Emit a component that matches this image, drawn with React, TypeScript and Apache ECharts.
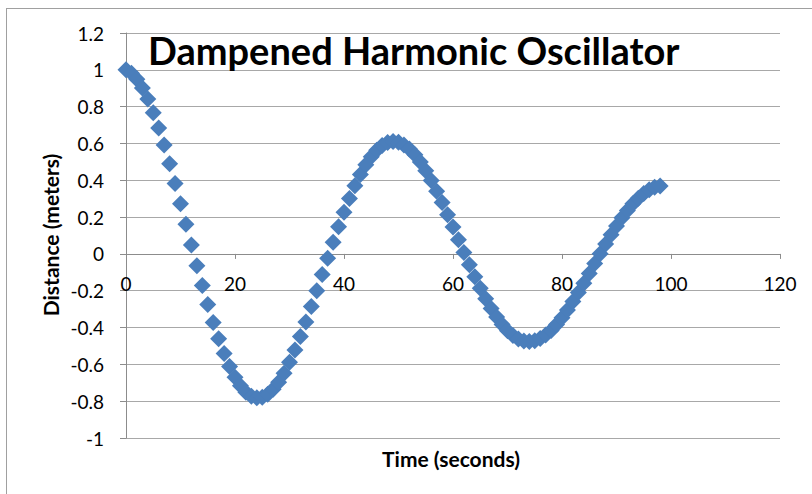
import React, { useEffect, useRef } from "react";
import * as echarts from "echarts";

const timeSeconds = [
  0, 1, 2, 3, 4, 5, 6, 7, 8, 9, 10, 11, 12, 13, 14, 15, 16, 17, 18, 19,
  20, 21, 22, 23, 24, 25, 26, 27, 28, 29, 30, 31, 32, 33, 34, 35, 36, 37, 38, 39,
  40, 41, 42, 43, 44, 45, 46, 47, 48, 49, 50, 51, 52, 53, 54, 55, 56, 57, 58, 59,
  60, 61, 62, 63, 64, 65, 66, 67, 68, 69, 70, 71, 72, 73, 74, 75, 76, 77, 78, 79,
  80, 81, 82, 83, 84, 85, 86, 87, 88, 89, 90, 91, 92, 93, 94, 95, 96, 97, 98,
];

const distanceMeters = [
  1.0, 0.982, 0.949, 0.901, 0.841, 0.767, 0.684, 0.591, 0.49, 0.383,
  0.273, 0.161, 0.048, -0.064, -0.172, -0.275, -0.372, -0.461, -0.541, -0.611,
  -0.67, -0.716, -0.751, -0.773, -0.782, -0.779, -0.763, -0.735, -0.697, -0.648,
  -0.589, -0.522, -0.449, -0.37, -0.286, -0.2, -0.112, -0.024, 0.063, 0.147,
  0.226, 0.301, 0.37, 0.431, 0.484, 0.528, 0.563, 0.589, 0.605, 0.61,
  0.606, 0.592, 0.57, 0.538, 0.499, 0.452, 0.399, 0.341, 0.279, 0.213,
  0.146, 0.077, 0.008, -0.059, -0.124, -0.186, -0.243, -0.296, -0.343, -0.383,
  -0.417, -0.443, -0.462, -0.473, -0.476, -0.472, -0.46, -0.441, -0.416, -0.384,
  -0.347, -0.305, -0.259, -0.21, -0.159, -0.106, -0.052, 0.001, 0.054, 0.104,
  0.152, 0.196, 0.236, 0.272, 0.303, 0.328, 0.348, 0.362, 0.369,
];

const xRange = { min: 0, max: 120, step: 20 };
const yRange = { min: -1, max: 1.2, step: 0.2 };

const titleText = "Dampened Harmonic Oscillator";
const xName = "Time (seconds)";
const yName = "Distance (meters)";

export default function App() {
  const ref = useRef<HTMLDivElement>(null);

  useEffect(() => {
    if (!ref.current) return;
    const chart = echarts.init(ref.current, undefined, { renderer: "svg" });
    const axisGray = "#8c8c8c";
    const gridGray = "#a8a8a8";
    const font = "Lato, 'Open Sans', sans-serif";

    const gridTop = 33;
    const gridBottom = 56;
    const gridHeight = 494 - gridTop - gridBottom;
    // shift the x axis from the grid bottom up to the y = 0 line
    const xAxisOffset =
      -gridHeight * ((0 - yRange.min) / (yRange.max - yRange.min));

    chart.setOption({
      animation: false,
      backgroundColor: "#ffffff",
      grid: { left: 126, right: 32, top: gridTop, bottom: gridBottom, containLabel: false },
      xAxis: {
        type: "value",
        min: xRange.min,
        max: xRange.max,
        interval: xRange.step,
        position: "bottom",
        offset: xAxisOffset,
        axisLine: { show: true, onZero: false, lineStyle: { color: axisGray, width: 1 } },
        axisTick: { show: true, inside: false, length: 5, lineStyle: { color: axisGray } },
        axisLabel: { margin: 20, color: "#000", fontFamily: font, fontSize: 19 },
        splitLine: { show: false },
      },
      yAxis: {
        type: "value",
        min: yRange.min,
        max: yRange.max,
        interval: yRange.step,
        axisLine: { show: true, onZero: false, lineStyle: { color: axisGray, width: 1 } },
        axisTick: { show: true, inside: false, length: 6, lineStyle: { color: axisGray } },
        axisLabel: {
          margin: 22,
          color: "#000",
          fontFamily: font,
          fontSize: 19,
          formatter: (v: number) => String(parseFloat(v.toFixed(1))),
        },
        splitLine: { show: true, lineStyle: { color: gridGray, width: 1 } },
      },
      series: [
        {
          type: "scatter",
          symbol: "diamond",
          symbolSize: 17,
          itemStyle: { color: "#4a7ebb", opacity: 1 },
          data: timeSeconds.map((t, i) => [t, distanceMeters[i]]),
          z: 5,
        },
      ],
      graphic: [
        {
          type: "line",
          shape: { x1: 6, y1: 8.5, x2: 812, y2: 8.5 },
          style: { stroke: "#a0a0a0", lineWidth: 1 },
          silent: true,
        },
        {
          type: "line",
          shape: { x1: 6.5, y1: 8, x2: 6.5, y2: 494 },
          style: { stroke: "#a0a0a0", lineWidth: 1 },
          silent: true,
        },
        {
          type: "text",
          x: 148,
          y: 50,
          z: 10,
          style: {
            text: titleText,
            fontFamily: font,
            fontWeight: "bold",
            fontSize: 38,
            fill: "#000",
            textAlign: "left",
            textVerticalAlign: "middle",
          },
        },
        {
          type: "text",
          x: 50,
          y: 235,
          rotation: Math.PI / 2,
          style: {
            text: yName,
            fontFamily: font,
            fontWeight: "bold",
            fontSize: 21,
            fill: "#000",
            textAlign: "center",
            textVerticalAlign: "middle",
          },
        },
        {
          type: "text",
          x: 451,
          y: 458,
          style: {
            text: xName,
            fontFamily: font,
            fontWeight: "bold",
            fontSize: 21,
            fill: "#000",
            textAlign: "center",
            textVerticalAlign: "middle",
          },
        },
      ],
    });

    return () => chart.dispose();
  }, []);

  return (
    <div
      ref={ref}
      style={{ position: "fixed", left: 0, top: 0, width: 812, height: 494 }}
    />
  );
}
